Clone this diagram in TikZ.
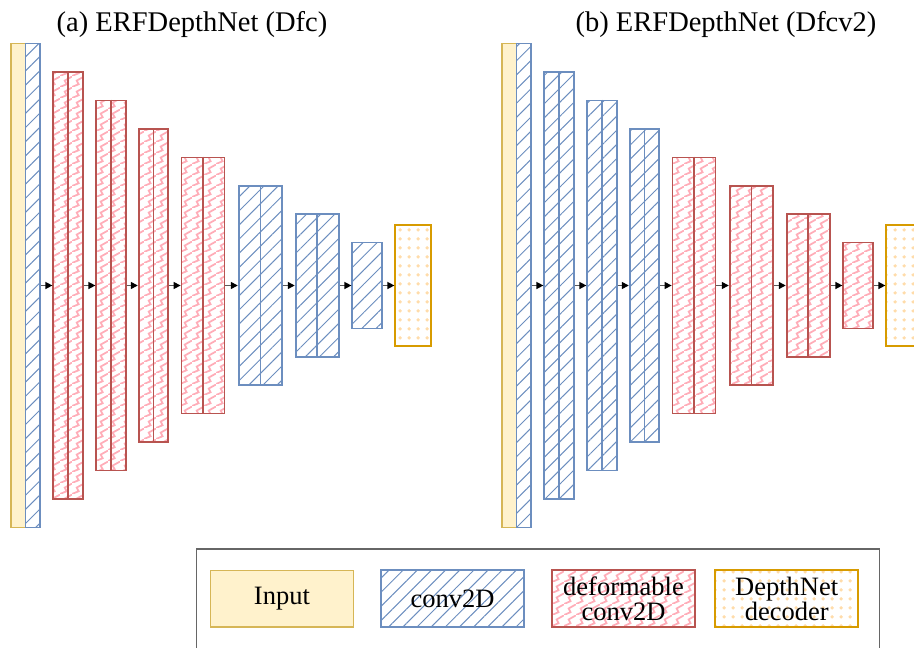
\documentclass[tikz,border=0pt]{standalone}
\usepackage{fontspec}
\setmainfont{Liberation Serif}
\usetikzlibrary{arrows.meta,patterns.meta}

\definecolor{convblue}{HTML}{6C8EBF}
\definecolor{dfmred}{HTML}{B85450}
\definecolor{dfmpink}{HTML}{FFADB8}
\definecolor{decorange}{HTML}{D79B00}
\definecolor{decdot}{HTML}{FFDCAA}
\definecolor{inyellow}{HTML}{FFF2CC}
\definecolor{inborder}{HTML}{D6B656}

% zigzag fill of the deformable layers
\tikzdeclarepattern{
  name=zigzag,
  type=uncolored,
  bottom left={(0pt,0pt)},
  top right={(12pt,11pt)},
  tile size={(12pt,11pt)},
  code={
    \draw[line width=1.9pt] (-1.2pt,-1.1pt) -- (0pt,0pt) -- (7pt,3pt)
      -- (5pt,7pt) -- (12pt,11pt) -- (13.2pt,12.1pt);
  }
}
% dots of the decoder
\tikzdeclarepattern{
  name=dotgrid,
  type=uncolored,
  bottom left={(0pt,0pt)},
  top right={(9pt,9pt)},
  tile size={(9pt,9pt)},
  code={
    \fill (4.5pt,4.5pt) circle (2pt);
  }
}

\begin{document}
\begin{tikzpicture}[x=1pt,y=-1pt,
    blk/.style={draw, line width=1.8pt, inner sep=0pt},
    inp/.style={blk, draw=inborder, fill=inyellow, line width=1.2pt},
    conv/.style={blk, draw=convblue,
        pattern={Lines[angle=45,distance=10pt,line width=1pt]},
        pattern color=convblue},
    dfm/.style={blk, draw=dfmred, pattern=zigzag, pattern color=dfmpink},
    dec/.style={blk, draw=decorange, pattern=dotgrid, pattern color=decdot},
    arr/.style={draw=black!65, line width=1.4pt,
        -{Triangle[length=7pt,width=7pt,color=black]}},
    ttl/.style={font=\fontsize{28.5}{32}\selectfont, anchor=base},
    lgd/.style={minimum width=143pt, minimum height=56.7pt, align=center,
        font=\fontsize{26.5}{25}\selectfont}
  ]
  \useasboundingbox (0,0) rectangle (914,648);

  % titles
  \node[ttl] (tA) at (192,31) {(a) ERFDepthNet (Dfc)};
  \node[ttl] (tB) at (726,31) {(b) ERFDepthNet (Dfcv2)};

  % (a) Dfc
  \begin{scope}
    \node[inp, minimum width=14.5, minimum height=484] (aIn) at (18.25,285.5) {};
    \node[conv, minimum width=14.5, minimum height=484] (a0) at (32.75,285.5) {};
    \node[dfm, minimum width=29.4, minimum height=427] (a1) at (68,285.5) {};
    \node[dfm, minimum width=29.4, minimum height=370] (a2) at (111,285.5) {};
    \node[dfm, minimum width=29.6, minimum height=313] (a3) at (153.5,285.5) {};
    \node[dfm, minimum width=43, minimum height=256] (a4) at (203,285.5) {};
    \node[conv, minimum width=43.6, minimum height=199.7] (a5) at (260.5,285.5) {};
    \node[conv, minimum width=43.3, minimum height=143] (a6) at (317.3,285.5) {};
    \node[conv, minimum width=29.4, minimum height=86] (a7) at (367,285.5) {};
    \node[dec, minimum width=36, minimum height=121] (aDec) at (413.3,285.5) {};
    % double layers
    \foreach \k in {1,...,4}
      \draw[dfmred, line width=1.8pt] (a\k.north) -- (a\k.south);
    \foreach \k in {5,6}
      \draw[convblue, line width=1.8pt] (a\k.north) -- (a\k.south);
    \foreach \u/\v in {a0/a1,a1/a2,a2/a3,a3/a4,a4/a5,a5/a6,a6/a7,a7/aDec}
      \draw[arr] (\u) -- (\v);
  \end{scope}

  % (b) Dfcv2
  \begin{scope}[xshift=491pt]
    \node[inp, minimum width=14.5, minimum height=484] (bIn) at (18.25,285.5) {};
    \node[conv, minimum width=14.5, minimum height=484] (b0) at (32.75,285.5) {};
    \node[conv, minimum width=29.4, minimum height=427] (b1) at (68,285.5) {};
    \node[conv, minimum width=29.4, minimum height=370] (b2) at (111,285.5) {};
    \node[conv, minimum width=29.6, minimum height=313] (b3) at (153.5,285.5) {};
    \node[dfm, minimum width=43, minimum height=256] (b4) at (203,285.5) {};
    \node[dfm, minimum width=43.6, minimum height=199.7] (b5) at (260.5,285.5) {};
    \node[dfm, minimum width=43.3, minimum height=143] (b6) at (317.3,285.5) {};
    \node[dfm, minimum width=29.4, minimum height=86] (b7) at (367,285.5) {};
    \node[dec, minimum width=36, minimum height=121] (bDec) at (413.3,285.5) {};
    % double layers
    \foreach \k in {1,2,3}
      \draw[convblue, line width=1.8pt] (b\k.north) -- (b\k.south);
    \foreach \k in {4,5,6}
      \draw[dfmred, line width=1.8pt] (b\k.north) -- (b\k.south);
    \foreach \u/\v in {b0/b1,b1/b2,b2/b3,b3/b4,b4/b5,b5/b6,b6/b7,b7/bDec}
      \draw[arr] (\u) -- (\v);
  \end{scope}

  % legend
  \draw[black!60, line width=1.2pt] (196.7,549) rectangle (879.3,662);
  \node[lgd, inp] (lIn) at (281.9,598.7) {Input};
  \node[lgd, conv] (lConv) at (452.5,598.7) {conv2D};
  \node[lgd, dfm] (lDfm) at (623.5,598.7) {deformable\\conv2D};
  \node[lgd, dec] (lDec) at (786.7,598.7) {DepthNet\\decoder};
\end{tikzpicture}
\end{document}
